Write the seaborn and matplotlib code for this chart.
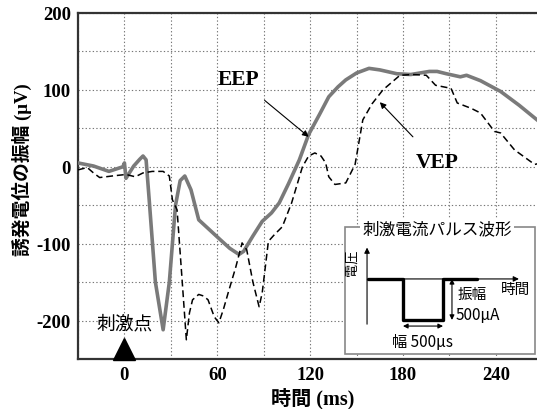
import numpy as np
import pandas as pd
import matplotlib
matplotlib.use("Agg")
import matplotlib.pyplot as plt
import seaborn as sns
from matplotlib.patches import Rectangle

# ---- data ----
eep_t = [-30, -20, -10, -4, -1, 0, 1, 6, 10, 12, 14, 16, 20, 25, 29, 33, 36, 39, 43, 48, 55, 62, 68, 74, 77, 83, 89,
         95, 100, 106, 113, 119, 126, 132, 138, 143, 150, 158, 165, 176, 185, 197, 202, 208, 217, 221, 230, 243, 255, 269]
eep_v = [5, 1, -6, -2, 0, 5, -15, 1, 10, 14, 9, -43, -150, -212, -150, -50, -18, -12, -30, -69, -82, -95, -106, -114, -110,
         -90, -71, -60, -47, -22, 9, 42, 68, 91, 104, 113, 122, 128, 126, 121, 120, 124, 124, 121, 117, 119, 112, 98, 80, 57]

vep_t = [-30, -24, -20, -16, -8, 1, 7, 12, 18, 25, 29, 31, 34, 37, 40, 42, 44, 48, 51, 54, 58, 61, 64, 67, 72, 76, 79,
         83, 87, 89, 93, 97, 102, 108, 115, 119, 123, 127, 130, 132, 136, 143, 149, 154, 160, 167, 178, 186, 195, 201,
         211, 215, 224, 230, 239, 243, 252, 265, 269]
vep_v = [-4, -1, -8, -14, -12, -10, -13, -8, -6, -6, -12, -43, -56, -140, -225, -190, -173, -166, -168, -173, -195, -203,
         -185, -164, -130, -99, -108, -150, -182, -164, -97, -88, -78, -47, 0, 14, 18, 14, 5, -13, -23, -21, 3, 61, 82,
         100, 119, 120, 119, 106, 102, 83, 76, 70, 46, 44, 22, 3, 5]

x_ticks = [0, 60, 120, 180, 240]
y_ticks = [-200, -100, 0, 100, 200]
x_label = "時間 (ms)"
y_label = "誘発電位の振幅 (μV)"

# inset pulse schematic (inset coordinates)
pulse_u = [0.121, 0.305, 0.305, 0.516, 0.516, 0.695]
pulse_v = [0.591, 0.591, 0.268, 0.268, 0.591, 0.591]

df_eep = pd.DataFrame({"t": eep_t, "v": eep_v})
df_vep = pd.DataFrame({"t": vep_t, "v": vep_v})

sns.set_style("white")
plt.rcParams["font.family"] = ["Liberation Serif", "Noto Sans CJK JP", "DejaVu Sans"]
plt.rcParams["text.color"] = "black"
plt.rcParams["xtick.color"] = "black"
plt.rcParams["ytick.color"] = "black"
plt.rcParams["axes.labelcolor"] = "black"

fig = plt.figure(figsize=(5.37, 4.10), dpi=100)
ax = fig.add_axes([78 / 537, 1 - 360 / 410, (537 - 78) / 537 + 0.01, (360 - 14) / 410])

ax.set_xlim(-30, 270)
ax.set_ylim(-250, 200)

ax.set_xticks(x_ticks)
ax.set_yticks(y_ticks)
ax.set_xticks(np.arange(-30, 271, 30), minor=True)
ax.set_yticks(np.arange(-250, 201, 50), minor=True)
ax.grid(which="both", linestyle=(0, (1.2, 2.0)), color="#777777", linewidth=0.8)
ax.set_axisbelow(True)

sns.lineplot(data=df_eep, x="t", y="v", ax=ax, sort=False, estimator=None,
             color="#7a7a7a", linewidth=2.6, zorder=3)
sns.lineplot(data=df_vep, x="t", y="v", ax=ax, sort=False, estimator=None,
             color="black", linewidth=1.1, linestyle=(0, (4.5, 2.5)), zorder=4)

ax.set_xticklabels([str(v) for v in x_ticks], fontsize=13.5, fontweight="bold")
ax.set_yticklabels([str(v) for v in y_ticks], fontsize=13.5, fontweight="bold")
ax.tick_params(which="both", length=0, pad=5)
ax.set_xlabel(x_label, fontsize=14.5, fontweight="bold")
ax.xaxis.set_label_coords(0.506, -0.082)
ax.set_ylabel(y_label, fontsize=13.5, fontweight="bold")
ax.yaxis.set_label_coords(-0.099, 0.55)

for s in ["left", "bottom", "top"]:
    ax.spines[s].set_color("#333333")
    ax.spines[s].set_linewidth(1.6)
ax.spines["right"].set_visible(False)

# annotations
ax.annotate("EEP", xy=(119, 39), xytext=(74, 114), fontsize=15.5, fontweight="bold",
            ha="center", va="center",
            arrowprops=dict(arrowstyle="-|>", color="black", lw=0.8, shrinkA=9, shrinkB=0,
                            mutation_scale=9))
ax.annotate("VEP", xy=(165, 84), xytext=(202, 6), fontsize=15.5, fontweight="bold",
            ha="center", va="center",
            arrowprops=dict(arrowstyle="-|>", color="black", lw=0.8, shrinkA=12, shrinkB=0,
                            mutation_scale=9))
ax.text(0, -203, "刺激点", fontsize=13.5, ha="center", va="center",
        family=["Noto Sans CJK JP", "DejaVu Sans"])
ax.plot([0], [-237], marker="^", markersize=16, color="black", clip_on=False, zorder=5)

# inset
ins = fig.add_axes([345 / 537, 1 - 355 / 410, 190 / 537, 127 / 410])
ins.set_xlim(0, 1)
ins.set_ylim(0, 1)
ins.axis("off")
ins.add_patch(Rectangle((0, 0), 1, 1, transform=ins.transAxes, facecolor="white",
                        edgecolor="#888888", linewidth=1.2, clip_on=False, zorder=0))
jp = ["Noto Sans CJK JP", "DejaVu Sans"]
ins.text(0.484, 0.985, "刺激電流パルス波形", fontsize=12, ha="center", va="center", family=jp,
         bbox=dict(facecolor="white", edgecolor="none", pad=1.5), zorder=3)
ins.annotate("", xy=(0.116, 0.86), xytext=(0.116, 0.213),
             arrowprops=dict(arrowstyle="-|>", color="black", lw=0.8, mutation_scale=8))
ins.annotate("", xy=(0.93, 0.591), xytext=(0.116, 0.591),
             arrowprops=dict(arrowstyle="-|>", color="black", lw=0.8, mutation_scale=8))
sns.lineplot(x=pulse_u, y=pulse_v, ax=ins, sort=False, estimator=None, color="black",
             linewidth=2.4, zorder=4)
ins.annotate("", xy=(0.563, 0.268), xytext=(0.563, 0.591),
             arrowprops=dict(arrowstyle="<|-|>", color="black", lw=0.8, mutation_scale=7,
                             shrinkA=0, shrinkB=0))
ins.annotate("", xy=(0.305, 0.22), xytext=(0.516, 0.22),
             arrowprops=dict(arrowstyle="<|-|>", color="black", lw=0.8, mutation_scale=7,
                             shrinkA=0, shrinkB=0))
ins.text(0.037, 0.73, "電圧", fontsize=9.5, rotation=90, ha="center", va="center", family=jp)
ins.text(0.895, 0.51, "時間", fontsize=10.5, ha="center", va="center", family=jp)
ins.text(0.59, 0.47, "振幅", fontsize=10.5, ha="left", va="center", family=jp)
ins.text(0.58, 0.31, "500μA", fontsize=11, ha="left", va="center", family=jp)
ins.text(0.41, 0.10, "幅 500μs", fontsize=11, ha="center", va="center", family=jp)

fig.savefig("out.png", dpi=100)
